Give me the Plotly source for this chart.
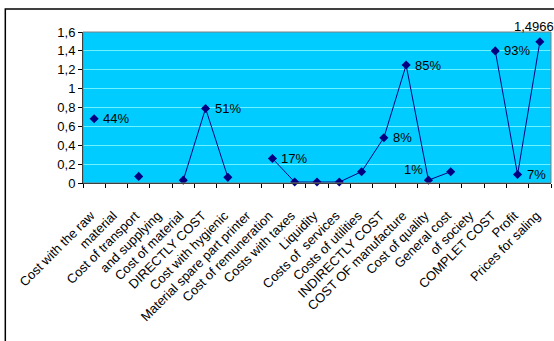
import plotly.graph_objects as go

# Cost structure categories, one per spreadsheet row
categories = [
    "Cost with the raw", "material", "Cost of transport", "and supplying",
    "Cost of material", "DIRECTLY COST", "Cost with hygienic",
    "Material spare part printer", "Cost of remuneration", "Costs with taxes",
    "Liquidity", "Costs of  services", "Costs of utilities", "INDIRECTLY COST",
    "COST OF manufacture", "Cost of quality", "General cost", "of society",
    "COMPLET COST", "Profit", "Prices for saling",
]

values = [
    0.68, None, 0.07, None,
    0.03, 0.79, 0.06,
    None, 0.26, 0.01,
    0.01, 0.01, 0.12, 0.48,
    1.25, 0.03, 0.12, None,
    1.40, 0.09, 1.4966,
]

point_labels = [
    "44%", "", "", "",
    "", "51%", "",
    "", "17%", "",
    "", "", "", "8%",
    "85%", "1%", "", "",
    "93%", "7%", "1,4966",
]

# label placement relative to its marker: (xanchor, yanchor, xshift, yshift)
label_style = {
    "right": ("left", "middle", 7, 0),
    "upper_left": ("right", "bottom", -3, 1),
    "above": ("center", "bottom", -6, 6),
}
label_place = [
    "right", None, None, None,
    None, "right", None,
    None, "right", None,
    None, None, None, "right",
    "right", "upper_left", None, None,
    "right", "right", "above",
]

y_ticks = [0, 0.2, 0.4, 0.6, 0.8, 1.0, 1.2, 1.4, 1.6]

x = list(range(len(categories)))
font_family = "Liberation Sans, Arial, sans-serif"

fig = go.Figure(
    go.Scatter(
        x=x,
        y=values,
        mode="lines+markers",
        connectgaps=False,
        line=dict(color="#000080", width=1),
        marker=dict(symbol="diamond", size=7, color="#000080"),
        cliponaxis=False,
        hoverinfo="x+y",
    )
)

# data labels attached to the points
for xi, yi, txt, place in zip(x, values, point_labels, label_place):
    if not txt or yi is None:
        continue
    xa, ya, dx, dy = label_style[place]
    fig.add_annotation(
        x=xi, y=yi, text=txt, showarrow=False,
        xanchor=xa, yanchor=ya, xshift=dx, yshift=dy,
        font=dict(family=font_family, size=13, color="black"),
    )

fig.update_layout(
    width=554,
    height=341,
    margin=dict(l=83, r=3, t=32, b=158),
    paper_bgcolor="white",
    plot_bgcolor="#00CCFF",
    showlegend=False,
    font=dict(family=font_family, size=13, color="black"),
    shapes=[
        # outer chart frame
        dict(type="rect", xref="paper", yref="paper",
             x0=-0.166, x1=1.2, y0=-1.3, y1=1.152,
             line=dict(color="black", width=1.5), fillcolor="rgba(0,0,0,0)",
             layer="below"),
        # plot area border
        dict(type="rect", xref="paper", yref="paper",
             x0=0, x1=1, y0=0, y1=1,
             line=dict(color="#808080", width=1), fillcolor="rgba(0,0,0,0)"),
    ],
)

fig.update_xaxes(
    range=[-0.5, len(categories) - 0.5],
    tickmode="array",
    tickvals=[i - 0.15 for i in x],
    ticktext=categories,
    tickangle=-45,
    ticks="",
    ticklabelstandoff=19,
    showgrid=False,
    zeroline=False,
    showline=True,
    linecolor="black",
    linewidth=1,
    tickfont=dict(family=font_family, size=13, color="black"),
    minor=dict(
        tickmode="array",
        tickvals=[i - 0.5 for i in range(len(categories) + 1)],
        ticks="outside",
        ticklen=4,
        tickcolor="black",
        showgrid=False,
    ),
)

fig.update_yaxes(
    range=[0, 1.6],
    tickmode="array",
    tickvals=y_ticks,
    ticktext=[f"{v:g}".replace(".", ",") for v in y_ticks],
    ticks="outside",
    ticklen=4,
    tickcolor="black",
    showgrid=True,
    gridcolor="#6FF2FF",
    gridwidth=1,
    zeroline=False,
    showline=True,
    linecolor="black",
    linewidth=1,
    tickfont=dict(family=font_family, size=13, color="black"),
)

fig.write_html("out.html")
